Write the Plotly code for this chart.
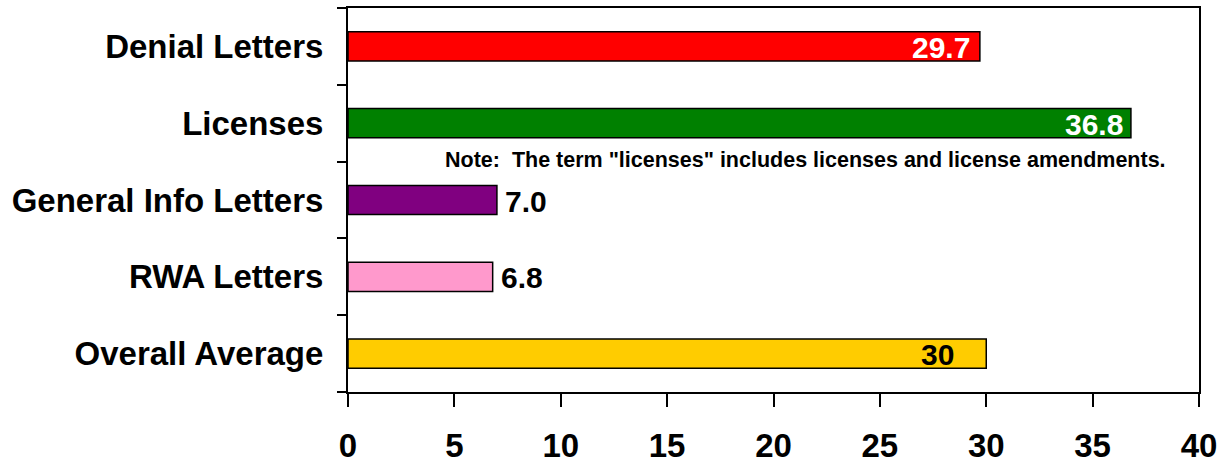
import plotly.graph_objects as go

categories = ["Denial Letters", "Licenses", "General Info Letters", "RWA Letters", "Overall Average"]
values = [29.7, 36.8, 7.0, 6.8, 30]
labels = ["29.7", "36.8", "7.0", "6.8", "30"]
colors = ["#FF0000", "#008000", "#800080", "#FF99CC", "#FFCC00"]
label_inside = [True, True, False, False, True]
label_colors = ["white", "white", "black", "black", "black"]
label_shift = [-8, -6, 6, 6, -30]
x_ticks = [0, 5, 10, 15, 20, 25, 30, 35, 40]
note = 'Note:  The term "licenses" includes licenses and license amendments.'

FONT = "Liberation Sans, Arial, sans-serif"

fig = go.Figure()
fig.add_trace(go.Bar(
    y=categories, x=values, orientation="h",
    marker=dict(color=colors, line=dict(color="black", width=1.5)),
    hoverinfo="skip",
))

for cat, v, lab, ins, col, sh in zip(categories, values, labels, label_inside, label_colors, label_shift):
    fig.add_annotation(
        x=v, y=cat, xref="x", yref="y", text="<b>%s</b>" % lab, showarrow=False,
        xanchor="right" if ins else "left", xshift=sh, yshift=-1,
        font=dict(family=FONT, size=30, color=col),
    )

fig.add_annotation(
    x=0.5376, y=0.603, xref="paper", yref="paper", text="<b>%s</b>" % note,
    showarrow=False, xanchor="center", yanchor="middle",
    font=dict(family=FONT, size=21.5, color="black"),
)

fig.update_layout(
    width=1230, height=464,
    margin=dict(l=348, r=31, t=8, b=72),
    paper_bgcolor="white", plot_bgcolor="white",
    showlegend=False, bargap=0.62,
    font=dict(family=FONT, color="black"),
)
fig.update_xaxes(
    range=[0, 40], tickvals=x_ticks, ticktext=["<b>%s</b>" % t for t in x_ticks],
    showgrid=False, zeroline=False, automargin=False,
    showline=True, linecolor="black", linewidth=2, mirror=True,
    ticks="outside", ticklen=13, tickwidth=2, tickcolor="black",
    tickfont=dict(family=FONT, size=33, color="black"),
    ticklabelstandoff=10,
)
fig.update_yaxes(
    type="category", autorange="reversed", tickson="boundaries",
    tickvals=categories, ticktext=["<b>%s</b>" % c for c in categories],
    showgrid=False, zeroline=False, automargin=False,
    showline=True, linecolor="black", linewidth=2, mirror=True,
    ticks="outside", ticklen=9, tickwidth=2, tickcolor="black",
    tickfont=dict(family=FONT, size=33, color="black"),
    ticklabelstandoff=16,
)

fig.write_html("out.html")
